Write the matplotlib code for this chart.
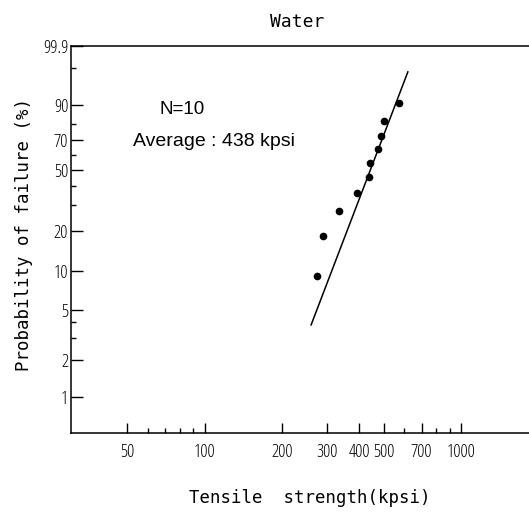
import numpy as np
import matplotlib
matplotlib.use("Agg")
import matplotlib.pyplot as plt
from matplotlib.font_manager import FontProperties

strength = [274, 290, 335, 394, 435, 441, 475, 486, 502, 571]
prob_fail = [9.1, 18.2, 27.3, 36.4, 45.5, 54.5, 63.6, 72.7, 81.8, 90.9]

# fitted Weibull line, end points
fit_x = [260, 619]
fit_y = [3.8, 98.6]

y_major = [1, 2, 5, 10, 20, 50, 70, 90, 99.9]
y_major_labels = ["1", "2", "5", "10", "20", "50", "70", "90", "99.9"]
y_minor = [3, 4, 30, 40, 60, 80, 99]
x_major = [50, 100, 200, 300, 400, 500, 700, 1000]
x_minor = [60, 70, 80, 90, 600, 800, 900]


def weib(p):
    # Weibull probability axis: ln(-ln(1-F))
    p = np.asarray(p, dtype=float) / 100.0
    return np.log(-np.log(1.0 - p))


plt.rcParams['font.family'] = ['Liberation Sans', 'DejaVu Sans']
tick_font = FontProperties(family='Open Sans', stretch='condensed', size=13)

fig = plt.figure(figsize=(5.29, 5.14), dpi=100)
ax = fig.add_axes([0.1342, 0.1576, 0.8658, 0.7529])

ax.plot(strength, weib(prob_fail), 'o', color='black', markersize=4.5)
ax.plot(fit_x, weib(fit_y), '-', color='black', linewidth=1.1)

ax.set_xscale('log')
ax.set_xlim(30.2, 1834)
ax.set_ylim(-5.26, float(weib(99.9)))

ax.set_xticks(x_major)
ax.set_xticklabels([str(v) for v in x_major])
ax.set_xticks(x_minor, minor=True)
ax.set_xticklabels([], minor=True)
ax.set_yticks(weib(y_major))
ax.set_yticklabels(y_major_labels)
ax.set_yticks(weib(y_minor), minor=True)

ax.tick_params(axis='both', which='major', direction='in', length=8.5, width=1.0)
ax.tick_params(axis='both', which='minor', direction='in', length=3.5, width=1.0)
ax.tick_params(axis='x', which='major', pad=7, length=7.5)
ax.tick_params(axis='y', which='major', pad=2)
for lab in ax.get_xticklabels() + ax.get_yticklabels():
    lab.set_fontproperties(tick_font)

for s in ['left', 'bottom', 'top']:
    ax.spines[s].set_linewidth(1.1)
ax.spines['right'].set_visible(False)

ax.text(0.242, 0.835, "N=10", fontsize=13.5, ha='center', va='center', transform=ax.transAxes)
ax.text(0.135, 0.752, "Average : 438 kpsi", fontsize=14, ha='left', va='center',
        transform=ax.transAxes)

fig.text(297 / 529, 1 - 22 / 514, "Water", fontsize=13, family='DejaVu Sans Mono',
         ha='center', va='center')
fig.text(310 / 529, 1 - 498 / 514, "Tensile  strength(kpsi)", fontsize=12.5,
         family='DejaVu Sans Mono', ha='center', va='center')
fig.text(24 / 529, 1 - 235 / 514, "Probability of failure (%)", fontsize=12.5,
         family='DejaVu Sans Mono', rotation=90, ha='center', va='center')

fig.savefig("out.png", dpi=100)
